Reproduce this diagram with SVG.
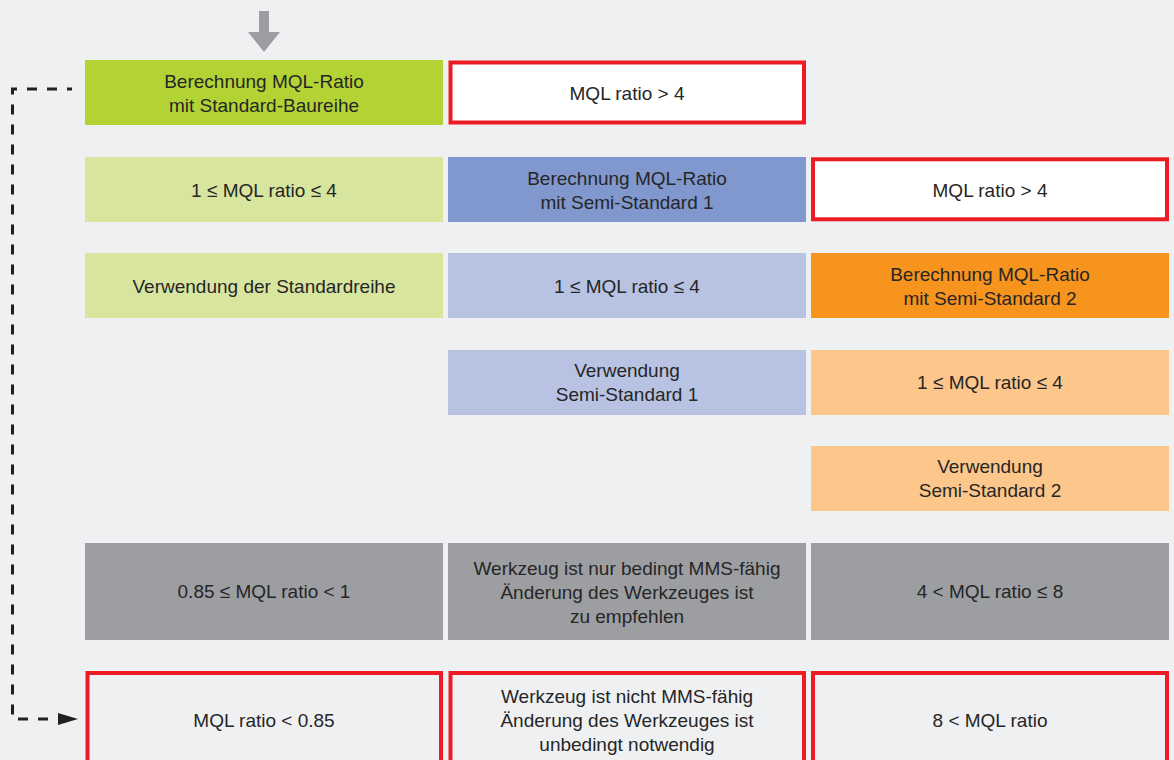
<svg xmlns="http://www.w3.org/2000/svg" width="1174" height="760" viewBox="0 0 1174 760">
<style>
  text { font-family: "Liberation Sans", Arial, sans-serif; font-size: 19px; fill: #262626; text-anchor: middle; }
  .red { fill: #ffffff; stroke: #ed1c24; stroke-width: 4; }
  .redbg { fill: #eff0f2; stroke: #ed1c24; stroke-width: 4; }
  .green { fill: #b3d334; }
  .lgreen { fill: #d8e59f; }
  .blue { fill: #8098ce; }
  .lblue { fill: #b8c2e2; }
  .orange { fill: #f7941e; }
  .lorange { fill: #fdc68a; }
  .gray { fill: #9d9ea2; }
  .dash { fill: none; stroke: #231f20; stroke-width: 3; stroke-dasharray: 10 10; stroke-dashoffset: 5; }
</style>
<defs>
  <marker id="ah" markerUnits="userSpaceOnUse" markerWidth="20" markerHeight="12" refX="0" refY="6" orient="auto">
    <polygon points="0,0 20,6 0,12" fill="#231f20"/>
  </marker>
</defs>
<rect width="1174" height="760" fill="#eff0f2"/>

<g id="connectors">
  <polygon points="259,11 269,11 269,32 280,32 264,52 248,32 259,32" fill="#9d9ea2"/>
  <path class="dash" d="M72,89 H12.5 V719 H58" marker-end="url(#ah)"/>
</g>

<g id="n-std-calc">
  <rect class="green" x="85" y="60" width="358" height="65"/>
  <text x="264" y="88">Berechnung MQL-Ratio</text>
  <text x="264" y="111.5">mit Standard-Baureihe</text>
</g>
<g id="n-std-gt4">
  <rect class="red" x="450.5" y="62.5" width="353.5" height="60"/>
  <text x="627" y="99.5">MQL ratio &gt; 4</text>
</g>

<g id="n-std-range">
  <rect class="lgreen" x="85" y="157" width="358" height="65"/>
  <text x="264" y="196.5">1 ≤ MQL ratio ≤ 4</text>
</g>
<g id="n-ss1-calc">
  <rect class="blue" x="448" y="157" width="358" height="65"/>
  <text x="627" y="184.5">Berechnung MQL-Ratio</text>
  <text x="627" y="208.5">mit Semi-Standard 1</text>
</g>
<g id="n-ss1-gt4">
  <rect class="red" x="813" y="159.3" width="354" height="60"/>
  <text x="990" y="196.5">MQL ratio &gt; 4</text>
</g>

<g id="n-std-use">
  <rect class="lgreen" x="85" y="253" width="358" height="65"/>
  <text x="264" y="292.5">Verwendung der Standardreihe</text>
</g>
<g id="n-ss1-range">
  <rect class="lblue" x="448" y="253" width="358" height="65"/>
  <text x="627" y="292.5">1 ≤ MQL ratio ≤ 4</text>
</g>
<g id="n-ss2-calc">
  <rect class="orange" x="811" y="253" width="358" height="65"/>
  <text x="990" y="280.5">Berechnung MQL-Ratio</text>
  <text x="990" y="304.5">mit Semi-Standard 2</text>
</g>

<g id="n-ss1-use">
  <rect class="lblue" x="448" y="350" width="358" height="65"/>
  <text x="627" y="377">Verwendung</text>
  <text x="627" y="401">Semi-Standard 1</text>
</g>
<g id="n-ss2-range">
  <rect class="lorange" x="811" y="350" width="358" height="65"/>
  <text x="990" y="389">1 ≤ MQL ratio ≤ 4</text>
</g>

<g id="n-ss2-use">
  <rect class="lorange" x="811" y="446" width="358" height="65"/>
  <text x="990" y="473">Verwendung</text>
  <text x="990" y="497">Semi-Standard 2</text>
</g>

<g id="n-cond-1">
  <rect class="gray" x="85" y="543" width="358" height="97"/>
  <text x="264" y="598">0.85 ≤ MQL ratio &lt; 1</text>
</g>
<g id="n-cond-2">
  <rect class="gray" x="448" y="543" width="358" height="97"/>
  <text x="627" y="574.5">Werkzeug ist nur bedingt MMS-fähig</text>
  <text x="627" y="598.5">Änderung des Werkzeuges ist</text>
  <text x="627" y="622.5">zu empfehlen</text>
</g>
<g id="n-cond-3">
  <rect class="gray" x="811" y="543" width="358" height="97"/>
  <text x="990" y="598">4 &lt; MQL ratio ≤ 8</text>
</g>

<g id="n-fail-1">
  <rect class="redbg" x="87.5" y="673" width="353.5" height="100"/>
  <text x="264" y="727">MQL ratio &lt; 0.85</text>
</g>
<g id="n-fail-2">
  <rect class="redbg" x="450.5" y="673" width="353.5" height="100"/>
  <text x="627" y="702.5">Werkzeug ist nicht MMS-fähig</text>
  <text x="627" y="726.5">Änderung des Werkzeuges ist</text>
  <text x="627" y="750.5">unbedingt notwendig</text>
</g>
<g id="n-fail-3">
  <rect class="redbg" x="813" y="673" width="354" height="100"/>
  <text x="990" y="727">8 &lt; MQL ratio</text>
</g>
</svg>
